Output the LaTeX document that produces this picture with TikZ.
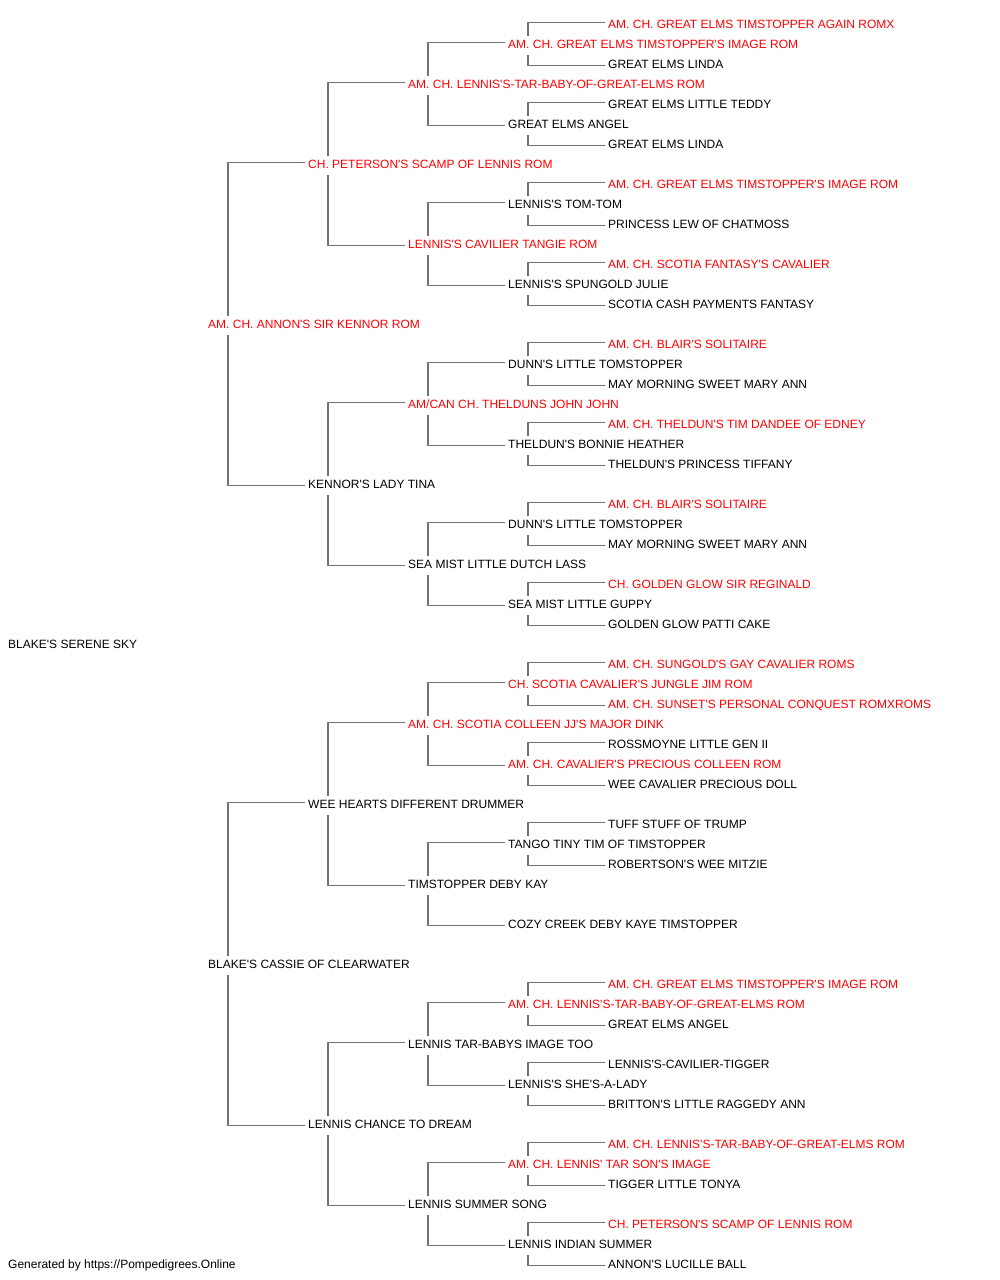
\documentclass[tikz,border=0pt]{standalone}
\usepackage{fontspec}
\setmainfont{Liberation Sans}[Ligatures=TeXOff]
\usetikzlibrary{calc}
\definecolor{linegray}{HTML}{727272}
\definecolor{redname}{HTML}{FF0000}
\tikzset{
  nb/.style={anchor=west, inner sep=0pt, text height=8.6pt, text depth=0pt,
    font=\fontsize{12}{14}\selectfont, text=black},
  nr/.style={nb, text=redname},
  conn/.style={draw=linegray, line width=1.5pt}
}
\newcommand{\pedlink}[3]{%
  \draw[conn] ([xshift=-3pt,yshift=2pt]#2.west) -| ([xshift=20pt,yshift=3.5pt]#1.north west);
  \draw[conn] ([xshift=20pt,yshift=-6.5pt]#1.south west) |- ([xshift=-3pt,yshift=-1pt]#3.west);}
\begin{document}
\begin{tikzpicture}[x=1pt,y=1pt]
\useasboundingbox (0,0.8) rectangle (1000,-1279.2);
% generation 0
\node[nb] (n31) at (8,-643.5) {BLAKE'S SERENE SKY};
% generation 1
\node[nr] (n15) at (208,-323.5) {AM. CH. ANNON'S SIR KENNOR ROM};
\node[nb] (n47) at (208,-963.5) {BLAKE'S CASSIE OF CLEARWATER};
% generation 2
\node[nr] (n7) at (308,-163.5) {CH. PETERSON'S SCAMP OF LENNIS ROM};
\node[nb] (n23) at (308,-483.5) {KENNOR'S LADY TINA};
\node[nb] (n39) at (308,-803.5) {WEE HEARTS DIFFERENT DRUMMER};
\node[nb] (n55) at (308,-1123.5) {LENNIS CHANCE TO DREAM};
% generation 3
\node[nr] (n3) at (408,-83.5) {AM. CH. LENNIS'S-TAR-BABY-OF-GREAT-ELMS ROM};
\node[nr] (n11) at (408,-243.5) {LENNIS'S CAVILIER TANGIE ROM};
\node[nr] (n19) at (408,-403.5) {AM/CAN CH. THELDUNS JOHN JOHN};
\node[nb] (n27) at (408,-563.5) {SEA MIST LITTLE DUTCH LASS};
\node[nr] (n35) at (408,-723.5) {AM. CH. SCOTIA COLLEEN JJ'S MAJOR DINK};
\node[nb] (n43) at (408,-883.5) {TIMSTOPPER DEBY KAY};
\node[nb] (n51) at (408,-1043.5) {LENNIS TAR-BABYS IMAGE TOO};
\node[nb] (n59) at (408,-1203.5) {LENNIS SUMMER SONG};
% generation 4
\node[nr] (n1) at (508,-43.5) {AM. CH. GREAT ELMS TIMSTOPPER'S IMAGE ROM};
\node[nb] (n5) at (508,-123.5) {GREAT ELMS ANGEL};
\node[nb] (n9) at (508,-203.5) {LENNIS'S TOM-TOM};
\node[nb] (n13) at (508,-283.5) {LENNIS'S SPUNGOLD JULIE};
\node[nb] (n17) at (508,-363.5) {DUNN'S LITTLE TOMSTOPPER};
\node[nb] (n21) at (508,-443.5) {THELDUN'S BONNIE HEATHER};
\node[nb] (n25) at (508,-523.5) {DUNN'S LITTLE TOMSTOPPER};
\node[nb] (n29) at (508,-603.5) {SEA MIST LITTLE GUPPY};
\node[nr] (n33) at (508,-683.5) {CH. SCOTIA CAVALIER'S JUNGLE JIM ROM};
\node[nr] (n37) at (508,-763.5) {AM. CH. CAVALIER'S PRECIOUS COLLEEN ROM};
\node[nb] (n41) at (508,-843.5) {TANGO TINY TIM OF TIMSTOPPER};
\node[nb] (n45) at (508,-923.5) {COZY CREEK DEBY KAYE TIMSTOPPER};
\node[nr] (n49) at (508,-1003.5) {AM. CH. LENNIS'S-TAR-BABY-OF-GREAT-ELMS ROM};
\node[nb] (n53) at (508,-1083.5) {LENNIS'S SHE'S-A-LADY};
\node[nr] (n57) at (508,-1163.5) {AM. CH. LENNIS' TAR SON'S IMAGE};
\node[nb] (n61) at (508,-1243.5) {LENNIS INDIAN SUMMER};
% generation 5
\node[nr] (n0) at (608,-23.5) {AM. CH. GREAT ELMS TIMSTOPPER AGAIN ROMX};
\node[nb] (n2) at (608,-63.5) {GREAT ELMS LINDA};
\node[nb] (n4) at (608,-103.5) {GREAT ELMS LITTLE TEDDY};
\node[nb] (n6) at (608,-143.5) {GREAT ELMS LINDA};
\node[nr] (n8) at (608,-183.5) {AM. CH. GREAT ELMS TIMSTOPPER'S IMAGE ROM};
\node[nb] (n10) at (608,-223.5) {PRINCESS LEW OF CHATMOSS};
\node[nr] (n12) at (608,-263.5) {AM. CH. SCOTIA FANTASY'S CAVALIER};
\node[nb] (n14) at (608,-303.5) {SCOTIA CASH PAYMENTS FANTASY};
\node[nr] (n16) at (608,-343.5) {AM. CH. BLAIR'S SOLITAIRE};
\node[nb] (n18) at (608,-383.5) {MAY MORNING SWEET MARY ANN};
\node[nr] (n20) at (608,-423.5) {AM. CH. THELDUN'S TIM DANDEE OF EDNEY};
\node[nb] (n22) at (608,-463.5) {THELDUN'S PRINCESS TIFFANY};
\node[nr] (n24) at (608,-503.5) {AM. CH. BLAIR'S SOLITAIRE};
\node[nb] (n26) at (608,-543.5) {MAY MORNING SWEET MARY ANN};
\node[nr] (n28) at (608,-583.5) {CH. GOLDEN GLOW SIR REGINALD};
\node[nb] (n30) at (608,-623.5) {GOLDEN GLOW PATTI CAKE};
\node[nr] (n32) at (608,-663.5) {AM. CH. SUNGOLD'S GAY CAVALIER ROMS};
\node[nr] (n34) at (608,-703.5) {AM. CH. SUNSET'S PERSONAL CONQUEST ROMXROMS};
\node[nb] (n36) at (608,-743.5) {ROSSMOYNE LITTLE GEN II};
\node[nb] (n38) at (608,-783.5) {WEE CAVALIER PRECIOUS DOLL};
\node[nb] (n40) at (608,-823.5) {TUFF STUFF OF TRUMP};
\node[nb] (n42) at (608,-863.5) {ROBERTSON'S WEE MITZIE};
\node[nr] (n48) at (608,-983.5) {AM. CH. GREAT ELMS TIMSTOPPER'S IMAGE ROM};
\node[nb] (n50) at (608,-1023.5) {GREAT ELMS ANGEL};
\node[nb] (n52) at (608,-1063.5) {LENNIS'S-CAVILIER-TIGGER};
\node[nb] (n54) at (608,-1103.5) {BRITTON'S LITTLE RAGGEDY ANN};
\node[nr] (n56) at (608,-1143.5) {AM. CH. LENNIS'S-TAR-BABY-OF-GREAT-ELMS ROM};
\node[nb] (n58) at (608,-1183.5) {TIGGER LITTLE TONYA};
\node[nr] (n60) at (608,-1223.5) {CH. PETERSON'S SCAMP OF LENNIS ROM};
\node[nb] (n62) at (608,-1263.5) {ANNON'S LUCILLE BALL};
% footer
\node[nb] (foot) at (8,-1263.5) {Generated by https://Pompedigrees.Online};
% connectors
\pedlink{n15}{n7}{n23}
\pedlink{n47}{n39}{n55}
\pedlink{n7}{n3}{n11}
\pedlink{n23}{n19}{n27}
\pedlink{n39}{n35}{n43}
\pedlink{n55}{n51}{n59}
\pedlink{n3}{n1}{n5}
\pedlink{n11}{n9}{n13}
\pedlink{n19}{n17}{n21}
\pedlink{n27}{n25}{n29}
\pedlink{n35}{n33}{n37}
\pedlink{n43}{n41}{n45}
\pedlink{n51}{n49}{n53}
\pedlink{n59}{n57}{n61}
\pedlink{n1}{n0}{n2}
\pedlink{n5}{n4}{n6}
\pedlink{n9}{n8}{n10}
\pedlink{n13}{n12}{n14}
\pedlink{n17}{n16}{n18}
\pedlink{n21}{n20}{n22}
\pedlink{n25}{n24}{n26}
\pedlink{n29}{n28}{n30}
\pedlink{n33}{n32}{n34}
\pedlink{n37}{n36}{n38}
\pedlink{n41}{n40}{n42}
\pedlink{n49}{n48}{n50}
\pedlink{n53}{n52}{n54}
\pedlink{n57}{n56}{n58}
\pedlink{n61}{n60}{n62}
\end{tikzpicture}
\end{document}
